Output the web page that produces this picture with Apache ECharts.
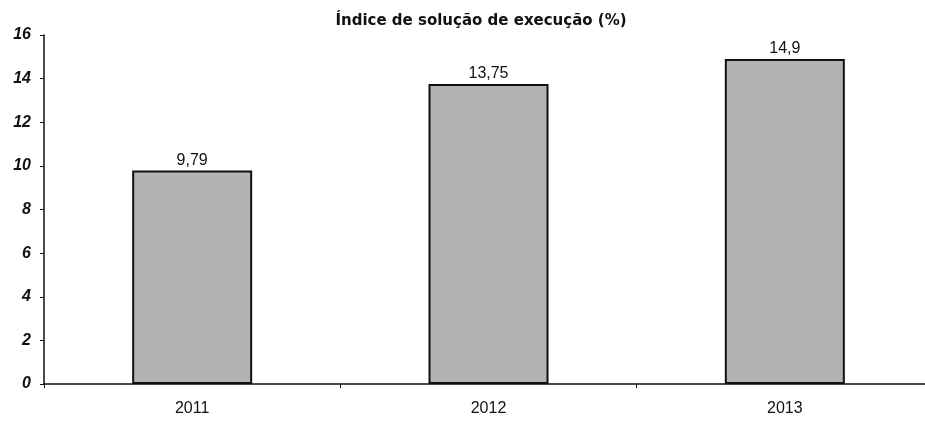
<!DOCTYPE html>
<html lang="pt">
<head>
    <meta charset="utf-8">
    <title>Índice de solução de execução</title>
    <style>
        html, body { margin: 0; padding: 0; background: #fff; }
        #main { width: 925px; height: 421px; }
    </style>
</head>
<body>
    <div id="main"></div>
    <script src="https://cdn.jsdelivr.net/npm/echarts@6/dist/echarts.min.js"></script>
    <script>
        var anos = ['2011', '2012', '2013']
        var indice = [9.79, 13.75, 14.9]
        var yTicks = [0, 2, 4, 6, 8, 10, 12, 14, 16]

        var virgula = (v) => String(v).replace('.', ',')

        var chart = echarts.init(document.getElementById('main'))
        var option = {
            animation: false,
            title: {
                text: 'Índice de solução de execução (%)',
                left: 476,
                textAlign: 'center',
                top: 9,
                textStyle: {
                    fontFamily: 'DejaVu Sans',
                    fontSize: 15,
                    fontWeight: 'bold',
                    color: '#111'
                }
            },
            grid: {
                left: 44,
                top: 35,
                width: 889,
                height: 349,
                outerBoundsMode: 'none'
            },
            xAxis: {
                type: 'category',
                data: anos,
                axisLine: { lineStyle: { color: '#111', width: 1.5 } },
                axisTick: { show: true, alignWithLabel: false, length: 4, lineStyle: { color: '#111' } },
                axisLabel: {
                    margin: 17,
                    fontFamily: 'Liberation Sans',
                    fontSize: 16,
                    color: '#111'
                }
            },
            yAxis: {
                type: 'value',
                min: yTicks[0],
                max: yTicks[yTicks.length - 1],
                interval: 2,
                splitLine: { show: false },
                axisLine: { show: true, lineStyle: { color: '#111', width: 1.5 } },
                axisTick: { show: true, length: 4, lineStyle: { color: '#111' } },
                axisLabel: {
                    margin: 13,
                    fontFamily: 'Liberation Sans',
                    fontSize: 16,
                    fontStyle: 'italic',
                    fontWeight: 'bold',
                    color: '#111'
                }
            },
            series: [
                {
                    type: 'bar',
                    data: indice,
                    barWidth: 120,
                    itemStyle: {
                        color: '#b3b3b3',
                        borderColor: '#111',
                        borderWidth: 2
                    },
                    label: {
                        show: true,
                        position: 'top',
                        distance: 2,
                        formatter: (p) => virgula(p.value),
                        fontFamily: 'Liberation Sans',
                        fontSize: 16,
                        color: '#111'
                    }
                }
            ]
        }
        chart.setOption(option)
    </script>
</body>
</html>
